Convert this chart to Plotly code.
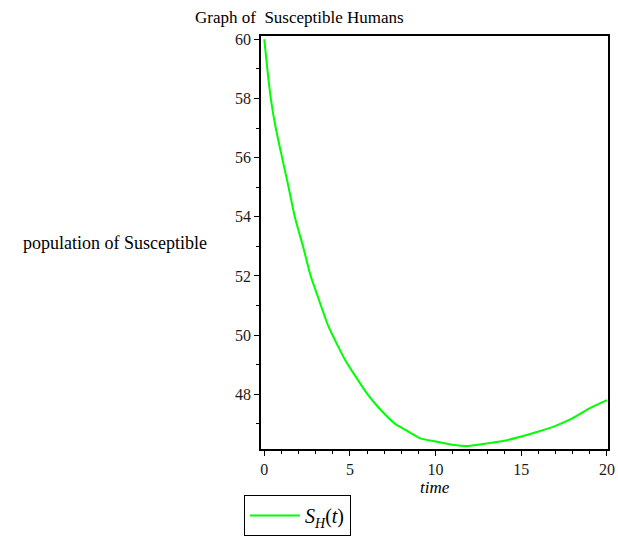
import plotly.graph_objects as go

t = [0, 0.18, 0.38, 0.67, 1.04, 1.42, 1.78, 2.26, 2.71, 3.06, 3.74, 4.72, 5.99, 6.72,
     7.64, 8.23, 9.1, 10, 11, 11.8, 13, 14, 15, 16, 17, 18, 19, 20]
S = [60, 59, 58, 57, 56, 55, 54, 53, 52, 51.41, 50.3, 49.16, 48.03, 47.52,
     47, 46.8, 46.51, 46.4, 46.29, 46.25, 46.34, 46.43, 46.57, 46.74, 46.93, 47.19, 47.53, 47.8]
x_ticks = [0, 5, 10, 15, 20]
y_ticks = [48, 50, 52, 54, 56, 58, 60]

FONT = "Liberation Serif"
W, H = 618, 538
L, R, T, B = 261, 10, 36, 89
pw, ph = W - L - R, H - T - B

def px(xp):
    return (xp - L) / pw

def py(yp):
    return (H - B - yp) / ph

fig = go.Figure()
fig.add_trace(go.Scatter(
    x=t, y=S, mode="lines",
    line=dict(color="#00ff00", width=2, shape="spline", smoothing=0.5),
    name="<i>S</i><sub><i>H</i></sub>(<i>t</i>)",
))

axis_common = dict(
    showgrid=False, zeroline=False, showline=True, linecolor="black", linewidth=1.5,
    mirror=True, ticks="outside", ticklen=5, tickcolor="black", tickwidth=1,
    tickfont=dict(family=FONT, size=16, color="#1a1a1a"),
)
fig.update_xaxes(range=[-0.19, 20.06], tickvals=x_ticks,
                 minor=dict(dtick=1, ticks="outside", ticklen=3, tickcolor="black"),
                 **axis_common)
fig.update_yaxes(range=[46.15, 60.11], tickvals=y_ticks,
                 minor=dict(dtick=1, ticks="outside", ticklen=3, tickcolor="black"),
                 **axis_common)

fig.update_layout(
    width=W, height=H,
    margin=dict(l=L, r=R, t=T, b=B, autoexpand=False),
    plot_bgcolor="white", paper_bgcolor="white",
    font=dict(family=FONT, color="black"),
    showlegend=True,
    legend=dict(x=px(244), y=py(536), xanchor="left", yanchor="bottom",
                bordercolor="black", borderwidth=1, bgcolor="white", itemwidth=50,
                font=dict(family=FONT, size=20, color="black")),
    annotations=[
        dict(text="Graph of  Susceptible Humans", x=px(299), y=py(18), xref="paper", yref="paper",
             showarrow=False, xanchor="center", yanchor="middle",
             font=dict(family=FONT, size=17, color="black")),
        dict(text="population of Susceptible", x=px(115), y=py(243), xref="paper", yref="paper",
             showarrow=False, xanchor="center", yanchor="middle",
             font=dict(family=FONT, size=18, color="black")),
        dict(text="<i>time</i>", x=px(435), y=py(487), xref="paper", yref="paper",
             showarrow=False, xanchor="center", yanchor="middle",
             font=dict(family=FONT, size=17, color="black")),
    ],
)

fig.write_html("out.html")
